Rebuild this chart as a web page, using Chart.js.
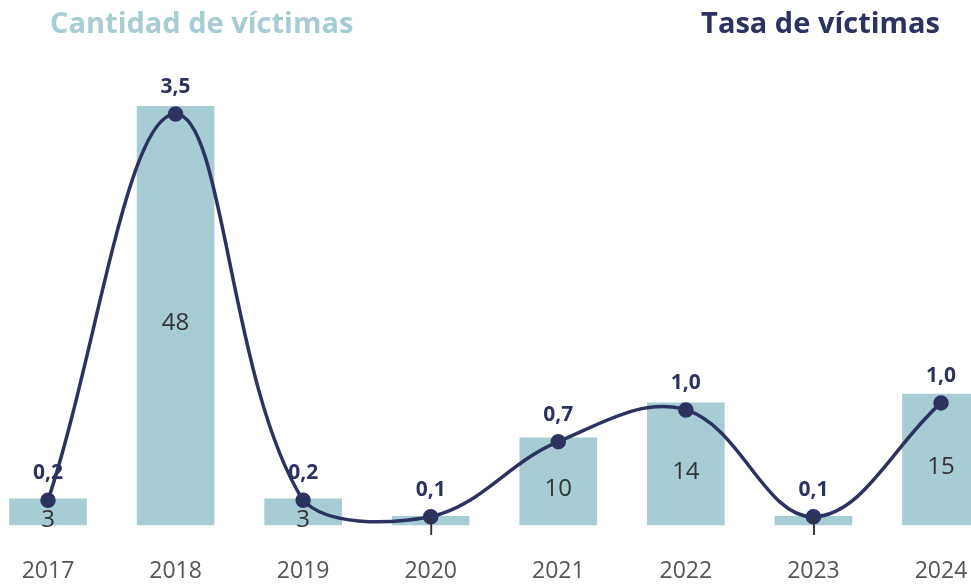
<!DOCTYPE html>
<html>
<head>
<meta charset="utf-8">
<script src="https://cdn.jsdelivr.net/npm/chart.js@4.4.1/dist/chart.umd.min.js"></script>
<style>
  html, body { margin: 0; padding: 0; background: #fff; }
  #wrap { position: relative; width: 971px; height: 584px; }
  .head { position: absolute; top: 4px; font-family: "Open Sans", sans-serif; font-weight: 700; font-size: 29px; line-height: 36px; }
  #left { left: 50px; color: #a7ccd4; }
  #right { right: 31px; color: #2d3361; }
</style>
</head>
<body>
<div id="wrap">
  <canvas id="victimasChart" width="971" height="584"></canvas>
  <div class="head" id="left">Cantidad de víctimas</div>
  <div class="head" id="right">Tasa de víctimas</div>
</div>
<script>
const years = ['2017', '2018', '2019', '2020', '2021', '2022', '2023', '2024'];
const cantidad = [3, 48, 3, 1, 10, 14, 1, 15];
const tasa = [0.21, 3.5, 0.21, 0.07, 0.71, 0.98, 0.07, 1.04];

const teal = '#a7ccd4';
const navy = '#2d3361';

const valueLabels = {
  id: 'valueLabels',
  afterDatasetsDraw(chart) {
    const ctx = chart.ctx;
    ctx.save();
    ctx.textAlign = 'center';
    ctx.textBaseline = 'middle';

    // bar values, centered in the bar
    const bars = chart.getDatasetMeta(0);
    ctx.font = '24px "Open Sans", sans-serif';
    ctx.fillStyle = '#333333';
    bars.data.forEach((bar, i) => {
      const y = (bar.y + bar.base) / 2 + 8;
      ctx.fillText(String(cantidad[i]), bar.x, y);
    });

    // rate values above the points
    const pts = chart.getDatasetMeta(1);
    ctx.font = 'bold 21px "Open Sans", sans-serif';
    ctx.fillStyle = navy;
    pts.data.forEach((pt, i) => {
      ctx.fillText(tasa[i].toFixed(1).replace('.', ','), pt.x, pt.y - 27);
    });
    ctx.restore();
  }
};

new Chart(document.getElementById('victimasChart').getContext('2d'), {
  data: {
    labels: years,
    datasets: [{
      type: 'bar',
      label: 'Cantidad de víctimas',
      data: cantidad,
      backgroundColor: teal,
      barThickness: 77,
      yAxisID: 'y',
      order: 2,
      clip: false
    }, {
      type: 'line',
      label: 'Tasa de víctimas',
      data: tasa,
      borderColor: navy,
      backgroundColor: navy,
      borderWidth: 3.5,
      pointRadius: 6,
      pointHoverRadius: 6,
      tension: 0.38,
      yAxisID: 'y1',
      order: 1,
      clip: false
    }]
  },
  options: {
    responsive: false,
    animation: false,
    layout: { autoPadding: false, padding: { left: 48, right: 30, top: 60, bottom: 0 } },
    plugins: {
      legend: { display: false },
      tooltip: { enabled: false }
    },
    scales: {
      x: {
        offset: false,
        grid: { display: false, drawTicks: false },
        border: { display: false },
        ticks: {
          color: '#555555',
          font: { family: '"Open Sans", sans-serif', size: 23 },
          padding: 33,
          maxRotation: 0,
          autoSkip: false
        },
        afterFit(scale) {
          scale.height = 59;
          scale.paddingLeft = 0;
          scale.paddingRight = 0;
        }
      },
      y: {
        display: false,
        min: 0,
        max: 53.3
      },
      y1: {
        display: false,
        position: 'right',
        min: 0,
        max: 3.96
      }
    }
  },
  plugins: [valueLabels]
});
</script>
</body>
</html>
